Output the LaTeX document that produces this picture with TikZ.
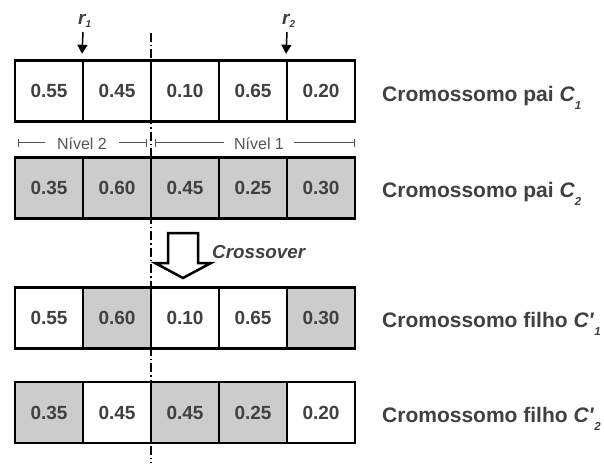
\documentclass[tikz,border=0pt]{standalone}
\usepackage{fontspec}
\setmainfont{Liberation Sans}
\usetikzlibrary{arrows.meta}
\definecolor{txt}{HTML}{404040}
\definecolor{cellgray}{HTML}{CCCCCC}
\definecolor{rulegray}{HTML}{555555}
\newcommand\labsub[1]{\raisebox{-8pt}{\fontsize{11.5}{11.5}\selectfont\bfseries\itshape #1}}
\newcommand\rsub[1]{\raisebox{-3pt}{\fontsize{10}{10}\selectfont\bfseries\itshape #1}}
\begin{document}
\begin{tikzpicture}[x=1pt,y=-1pt,
  cell/.style={draw=black, line width=2.4pt, minimum width=68pt, minimum height=61pt,
    inner sep=0pt, font=\fontsize{19}{20}\selectfont\bfseries, text=txt},
  wcell/.style={cell, fill=white},
  gcell/.style={cell, fill=cellgray},
  rowlabel/.style={anchor=base west, inner sep=0pt,
    font=\fontsize{21}{22}\selectfont\bfseries, text=txt},
  rlabel/.style={anchor=base west, inner sep=0pt,
    font=\fontsize{19}{20}\selectfont\bfseries\itshape, text=txt},
  rarrow/.style={line width=1.5pt, -{Triangle[length=9pt,width=10pt]}, shorten >=5.5pt},
  level/.style={draw=rulegray, line width=1pt, {Bar[width=8pt]}-{Bar[width=8pt]}},
  leveltext/.style={fill=white, text=rulegray, inner ysep=1pt,
    font=\fontsize{16}{16}\selectfont},
  cut/.style={line width=2pt, dash pattern=on 9pt off 3pt on 1.5pt off 3pt},
]
\useasboundingbox (0,0) rectangle (604,465);

% parent and child chromosomes
\foreach \v/\s [count=\i] in {0.55/wcell,0.45/wcell,0.10/wcell,0.65/wcell,0.20/wcell}
  \node[\s] (p1-\i) at ({68*\i-19},91) {\v};
\foreach \v/\s [count=\i] in {0.35/gcell,0.60/gcell,0.45/gcell,0.25/gcell,0.30/gcell}
  \node[\s] (p2-\i) at ({68*\i-19},188) {\v};
\foreach \v/\s [count=\i] in {0.55/wcell,0.60/gcell,0.10/wcell,0.65/wcell,0.30/gcell}
  \node[\s] (f1-\i) at ({68*\i-19},318) {\v};
\foreach \v/\s [count=\i] in {0.35/gcell,0.45/wcell,0.45/gcell,0.25/gcell,0.20/wcell}
  \node[\s] (f2-\i) at ({68*\i-19},412.5) {\v};

% row labels
\node[rowlabel] (lp1) at (382,102) {Cromossomo pai \textit{C}\labsub{1}};
\node[rowlabel] (lp2) at (382,197) {Cromossomo pai \textit{C}\labsub{2}};
\node[rowlabel] (lf1) at (382,327) {Cromossomo filho \textit{C\textquotesingle}\labsub{1}};
\node[rowlabel] (lf2) at (382,422) {Cromossomo filho \textit{C\textquotesingle}\labsub{2}};

% random points r1, r2
\node[rlabel] (r1) at (78,25) {r\rsub{1}};
\node[rlabel] (r2) at (282,25) {r\rsub{2}};
\coordinate (r1a) at (83,32);
\coordinate (r2a) at (287,32);
\draw[rarrow] (r1a) -- (p1-2.north west);
\draw[rarrow] (r2a) -- (p1-5.north west);

% levels
\coordinate (n2a) at (18,143);
\coordinate (n2b) at (147,143);
\coordinate (n1a) at (155,143);
\coordinate (n1b) at (355,143);
\draw[level] (n2a) -- (n2b);
\draw[level] (n1a) -- (n1b);
\node[leveltext, inner xsep=12pt] (nv2) at (82,143.5) {Nível 2};
\node[leveltext, inner xsep=10pt] (nv1) at (259,143.5) {Nível 1};

% crossover block arrow
\draw[line width=2.5pt, fill=white, line join=miter]
  (168,233) -- (198,233) -- (198,263) -- (211,263) -- (183,278)
  -- (155,263) -- (168,263) -- cycle;
\node[anchor=west, inner sep=0pt, font=\fontsize{18.8}{20}\selectfont\bfseries\itshape, text=txt]
  (cx) at (212,252) {Crossover};

% cut line
\coordinate (cuttop) at (151,33);
\coordinate (cutbot) at (151,463);
\draw[cut] (cuttop) -- (cutbot);
\end{tikzpicture}
\end{document}
